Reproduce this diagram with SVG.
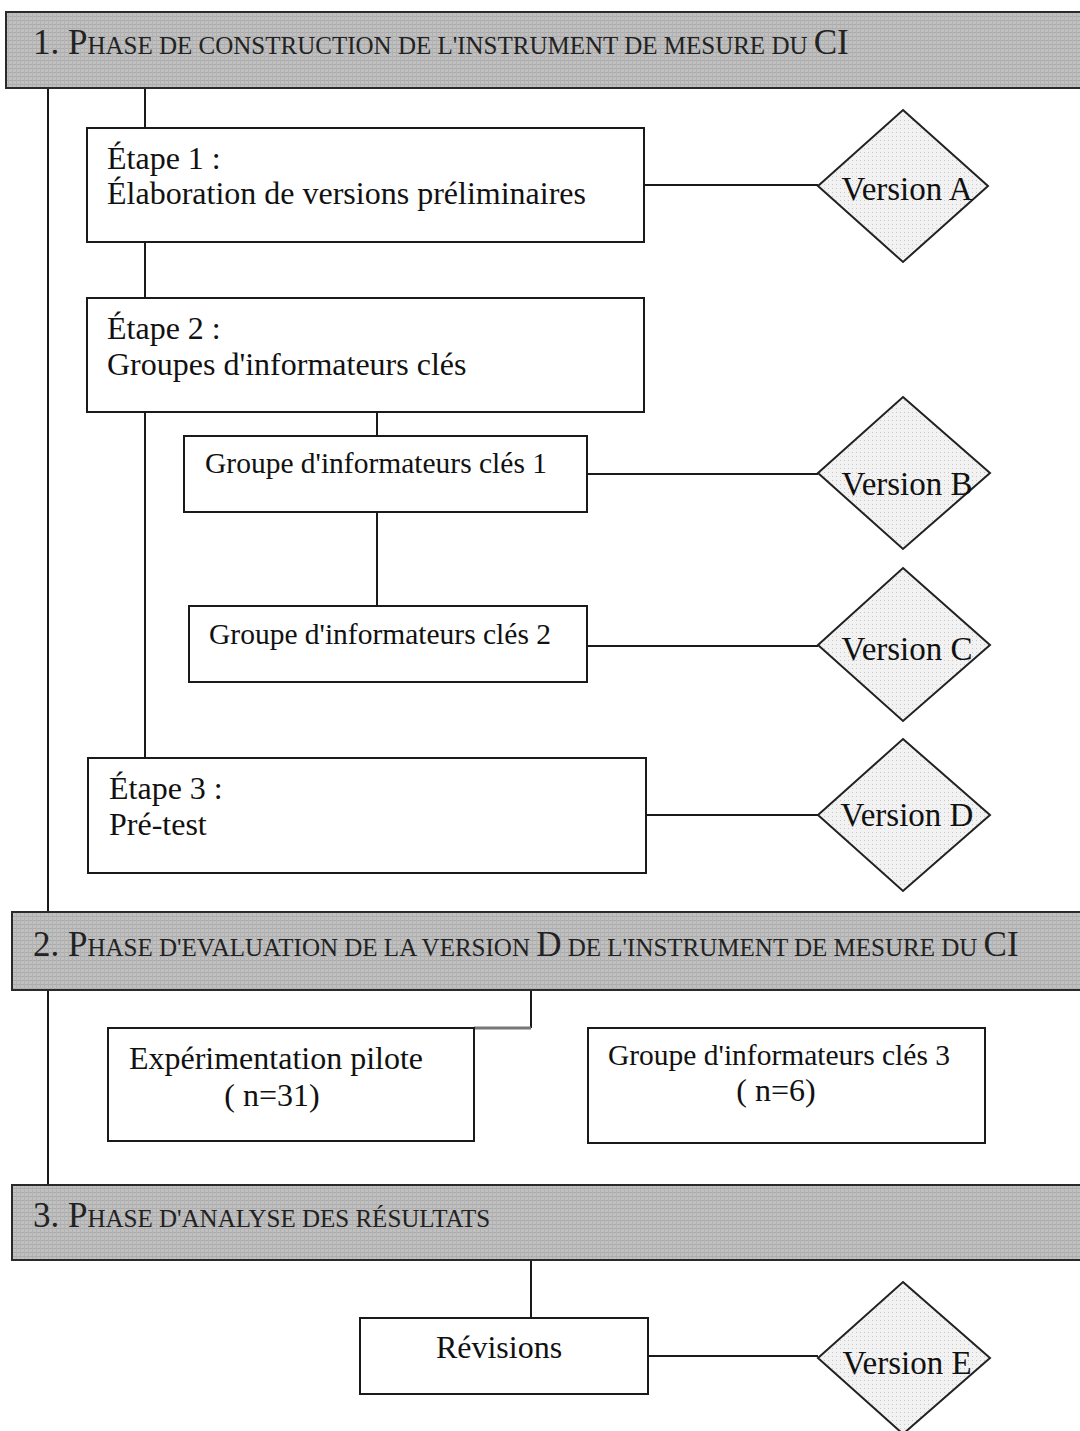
<svg xmlns="http://www.w3.org/2000/svg" width="1080" height="1431" viewBox="0 0 1080 1431">
<defs>
<pattern id="grain" width="4" height="4" patternUnits="userSpaceOnUse">
<rect width="4" height="4" fill="#c0c0c0"/>
<rect width="4" height="1" fill="#ababab"/>
<rect width="1" height="4" fill="#b2b2b2"/>
</pattern>
<pattern id="dots" width="4" height="4" patternUnits="userSpaceOnUse">
<rect width="4" height="4" fill="#f2f2f2"/>
<rect width="1" height="1" fill="#c8c8c8"/>
</pattern>
<style>
.band{fill:url(#grain);stroke:#2a2a2a;stroke-width:2}
.box{fill:#fff;stroke:#1a1a1a;stroke-width:2}
.dia{fill:url(#dots);stroke:#222;stroke-width:2}
.t{font-family:"Liberation Serif","Times New Roman",serif;fill:#111;font-size:32px}
.ts{font-family:"Liberation Serif","Times New Roman",serif;fill:#111;font-size:29.5px}
.tv{font-family:"Liberation Serif","Times New Roman",serif;fill:#111;font-size:33px}
.h{font-family:"Liberation Serif","Times New Roman",serif;fill:#222;font-size:35px}
.hs{font-size:25px}
.c{stroke:#1a1a1a;stroke-width:2;fill:none}
.cg{stroke:#777;stroke-width:3;fill:none}
</style>
</defs>
<rect width="1080" height="1431" fill="#fff"/>

<g id="connectors">
<line class="c" x1="48" y1="88" x2="48" y2="912"/>
<line class="c" x1="48" y1="990" x2="48" y2="1185"/>
<line class="c" x1="145" y1="88" x2="145" y2="128"/>
<line class="c" x1="145" y1="242" x2="145" y2="298"/>
<line class="c" x1="644" y1="185" x2="818" y2="185"/>
<line class="c" x1="145" y1="412" x2="145" y2="758"/>
<line class="c" x1="377" y1="412" x2="377" y2="436"/>
<line class="c" x1="587" y1="474" x2="818" y2="474"/>
<line class="c" x1="377" y1="512" x2="377" y2="606"/>
<line class="c" x1="587" y1="646" x2="818" y2="646"/>
<line class="c" x1="646" y1="815" x2="818" y2="815"/>
<line class="c" x1="531" y1="990" x2="531" y2="1028"/>
<line class="cg" x1="474" y1="1028" x2="531" y2="1028"/>
<line class="c" x1="531" y1="1260" x2="531" y2="1318"/>
<line class="c" x1="648" y1="1356" x2="818" y2="1356"/>
</g>

<g id="phase1">
<rect class="band" x="6" y="12" width="1090" height="76"/>
<text class="h" x="33" y="54">1. P<tspan class="hs">HASE DE CONSTRUCTION DE L'INSTRUMENT DE MESURE DU </tspan>CI</text>
</g>

<g id="etape1">
<rect class="box" x="87" y="128" width="557" height="114"/>
<text class="t" x="107" y="169">Étape 1 :</text>
<text class="t" x="107" y="204">Élaboration de versions préliminaires</text>
</g>
<g id="versionA">
<polygon class="dia" points="903,110 988,186 903,262 818,186"/>
<text class="tv" x="907" y="200" text-anchor="middle">Version A</text>
</g>

<g id="etape2">
<rect class="box" x="87" y="298" width="557" height="114"/>
<text class="t" x="107" y="339">Étape 2 :</text>
<text class="t" x="107" y="375">Groupes d'informateurs clés</text>
</g>

<g id="groupe1">
<rect class="box" x="184" y="436" width="403" height="76"/>
<text class="ts" x="205" y="473">Groupe d'informateurs clés 1</text>
</g>
<g id="versionB">
<polygon class="dia" points="903,397 990,473 903,549 818,473"/>
<text class="tv" x="907" y="495" text-anchor="middle">Version B</text>
</g>

<g id="groupe2">
<rect class="box" x="189" y="606" width="398" height="76"/>
<text class="ts" x="209" y="644">Groupe d'informateurs clés 2</text>
</g>
<g id="versionC">
<polygon class="dia" points="903,568 990,645 903,721 818,645"/>
<text class="tv" x="907" y="660" text-anchor="middle">Version C</text>
</g>

<g id="etape3">
<rect class="box" x="88" y="758" width="558" height="115"/>
<text class="t" x="109" y="799">Étape 3 :</text>
<text class="t" x="109" y="835">Pré-test</text>
</g>
<g id="versionD">
<polygon class="dia" points="903,739 990,815 903,891 818,815"/>
<text class="tv" x="907" y="826" text-anchor="middle">Version D</text>
</g>

<g id="phase2">
<rect class="band" x="12" y="912" width="1090" height="78"/>
<text class="h" x="33" y="956">2. P<tspan class="hs">HASE D'EVALUATION DE LA VERSION </tspan>D<tspan class="hs"> DE L'INSTRUMENT DE MESURE DU </tspan>CI</text>
</g>

<g id="pilote">
<rect class="box" x="108" y="1028" width="366" height="113"/>
<text class="t" x="276" y="1069" text-anchor="middle">Expérimentation pilote</text>
<text class="t" x="272" y="1106" text-anchor="middle">( n=31)</text>
</g>

<g id="groupe3">
<rect class="box" x="588" y="1028" width="397" height="115"/>
<text class="ts" x="779" y="1065" text-anchor="middle">Groupe d'informateurs clés 3</text>
<text class="t" x="776" y="1101" text-anchor="middle">( n=6)</text>
</g>

<g id="phase3">
<rect class="band" x="12" y="1185" width="1090" height="75"/>
<text class="h" x="33" y="1227">3. P<tspan class="hs">HASE D'ANALYSE DES RÉSULTATS</tspan></text>
</g>

<g id="revisions">
<rect class="box" x="360" y="1318" width="288" height="76"/>
<text class="t" x="499" y="1358" text-anchor="middle">Révisions</text>
</g>
<g id="versionE">
<polygon class="dia" points="903,1282 990,1358 903,1434 818,1358"/>
<text class="tv" x="907" y="1374" text-anchor="middle">Version E</text>
</g>
</svg>
